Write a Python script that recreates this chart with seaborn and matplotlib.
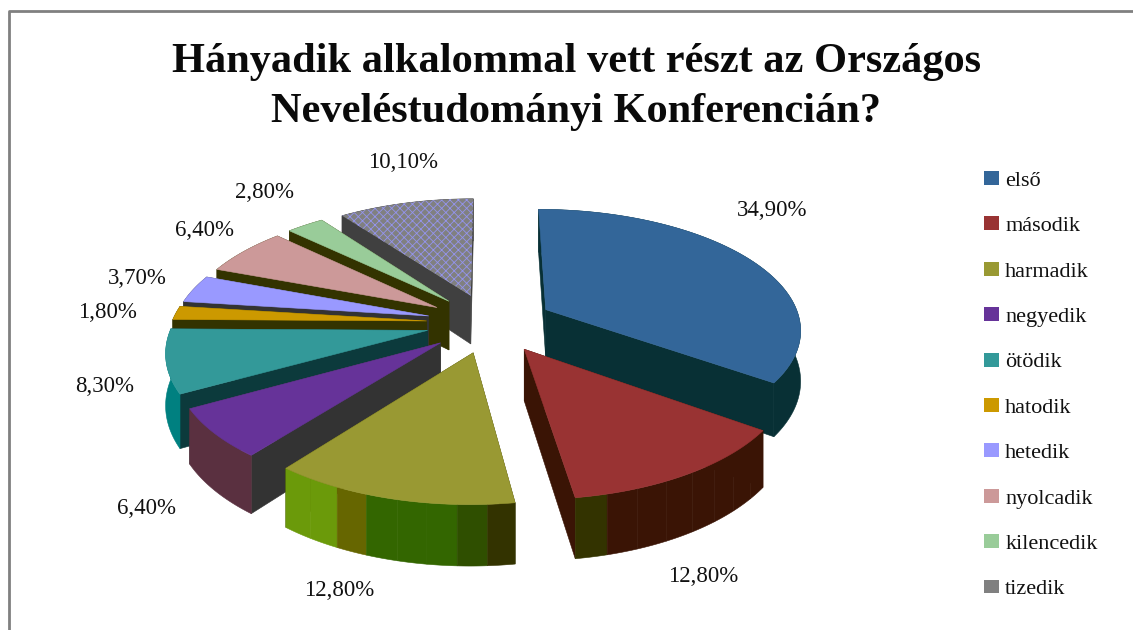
import numpy as np
import matplotlib
matplotlib.use('Agg')
import matplotlib.pyplot as plt
from matplotlib.patches import Polygon, Patch
import seaborn as sns

title = 'Hányadik alkalommal vett részt az Országos\nNeveléstudományi Konferencián?'
categories = ['első', 'második', 'harmadik', 'negyedik', 'ötödik',
              'hatodik', 'hetedik', 'nyolcadik', 'kilencedik', 'tizedik']
values = [34.9, 12.8, 12.8, 6.4, 8.3, 1.8, 3.7, 6.4, 2.8, 10.1]

top_colors = ['#336699', '#993333', '#999933', '#663399', '#339999',
              '#cc9900', '#9999ff', '#cc9999', '#99cc99', '#808080']
radial_colors = ['#083035', '#3a1405', '#333300', '#333333', '#0c3a3c',
                 '#333300', '#333333', '#333300', '#333300', '#404040']
wall_colors = [['#083035'],
               ['#333300', '#3a1405', '#3a1405', '#3a1405', '#3a1405', '#3a1405', '#3a1405', '#3a1405'],
               ['#6b9a0a', '#6b9a0a', '#666600', '#336600', '#336600', '#336600', '#2f4f00', '#333300'],
               ['#5a3040'], ['#008080'], ['#333300'], ['#333333'],
               ['#333300'], ['#333300'], ['#404040']]

label_xy = [(772, 211), (703, 576), (339, 590), (147, 509), (105, 386),
            (107, 313), (137, 279), (204, 231), (265, 192), (403, 163)]

# view of the tilted pie, in pixels
cx, cy, rx, ry = 490, 323, 255, 119
tilt, depth = 0.15, 50


def project(x, y, z=0.0):
    w = 1 + tilt * y
    return np.column_stack([cx + rx * x / w, cy - ry * y / w + depth * z / w])


def add_poly(ax, pts, color, **kw):
    ax.add_patch(Polygon(pts, closed=True, facecolor=color, edgecolor=color, lw=0.4, **kw))


sns.set_theme(style='white')
plt.rcParams['font.family'] = ['Liberation Serif', 'DejaVu Serif']
plt.rcParams['hatch.linewidth'] = 0.6
palette = sns.color_palette(top_colors)

fig = plt.figure(figsize=(11.33, 6.3), dpi=100)
ax = fig.add_axes([0, 0, 1, 1])

# the pie gives the angles and exploded centres, they get drawn tilted below
wedges, _ = ax.pie(values, explode=[0.25] * len(values), startangle=90, counterclock=False,
                   colors=palette, radius=1)
slices = [(w.center, w.theta1, w.theta2) for w in wedges]
for w in wedges:
    w.remove()

for i in sorted(range(len(values)), key=lambda n: -slices[n][0][1]):
    (x0, y0), t1, t2 = slices[i]
    th = np.radians(np.linspace(t1, t2, max(int(t2 - t1) * 2, 16)))
    xs, ys = x0 + np.cos(th), y0 + np.sin(th)
    for k in (0, -1):
        rim_x, rim_y = np.array([x0, xs[k]]), np.array([y0, ys[k]])
        add_poly(ax, np.vstack([project(rim_x, rim_y), project(rim_x, rim_y, 1)[::-1]]), radial_colors[i])
    shades = wall_colors[i]
    for s, part in enumerate(np.array_split(np.arange(len(th)), len(shades))):
        # take one step of the next strip so no seam shows
        idx = np.r_[part, part[-1] + 1] if part[-1] + 1 < len(th) else part
        add_poly(ax, np.vstack([project(xs[idx], ys[idx]), project(xs[idx], ys[idx], 1)[::-1]]), shades[s])
    top = project(np.r_[x0, xs], np.r_[y0, ys])
    if categories[i] == 'tizedik':
        ax.add_patch(Polygon(top, closed=True, facecolor=palette[i], edgecolor='#9494ee',
                             hatch='xxxx', lw=0))
    else:
        add_poly(ax, top, palette[i])

for v, (lx, ly) in zip(values, label_xy):
    ax.text(lx, ly, f'{v:.2f}%'.replace('.', ','), ha='center', va='center',
            fontsize=16.5, color='#111111')

ax.text(576, 87, title, ha='center', va='center', fontsize=30.5, fontweight='bold',
        color='#0a0a0a', linespacing=1.42)

handles = [Patch(facecolor=c, edgecolor='none', label=n) for c, n in zip(palette, categories)]
ax.legend(handles=handles, loc='upper left', bbox_to_anchor=(973, 160), bbox_transform=ax.transData,
          frameon=False, fontsize=16, labelspacing=1.15, handlelength=0.68, handleheight=0.59,
          handletextpad=0.27, borderpad=0.5, borderaxespad=0, labelcolor='#111111')

# grey border of the pasted chart
ax.plot([8.5, 8.5, 1133], [630, 11, 11], color='#808080', lw=2, clip_on=False)

ax.set_aspect('auto')
ax.set_xlim(0, 1133)
ax.set_ylim(630, 0)
ax.axis('off')
fig.savefig('out.png', dpi=100)
